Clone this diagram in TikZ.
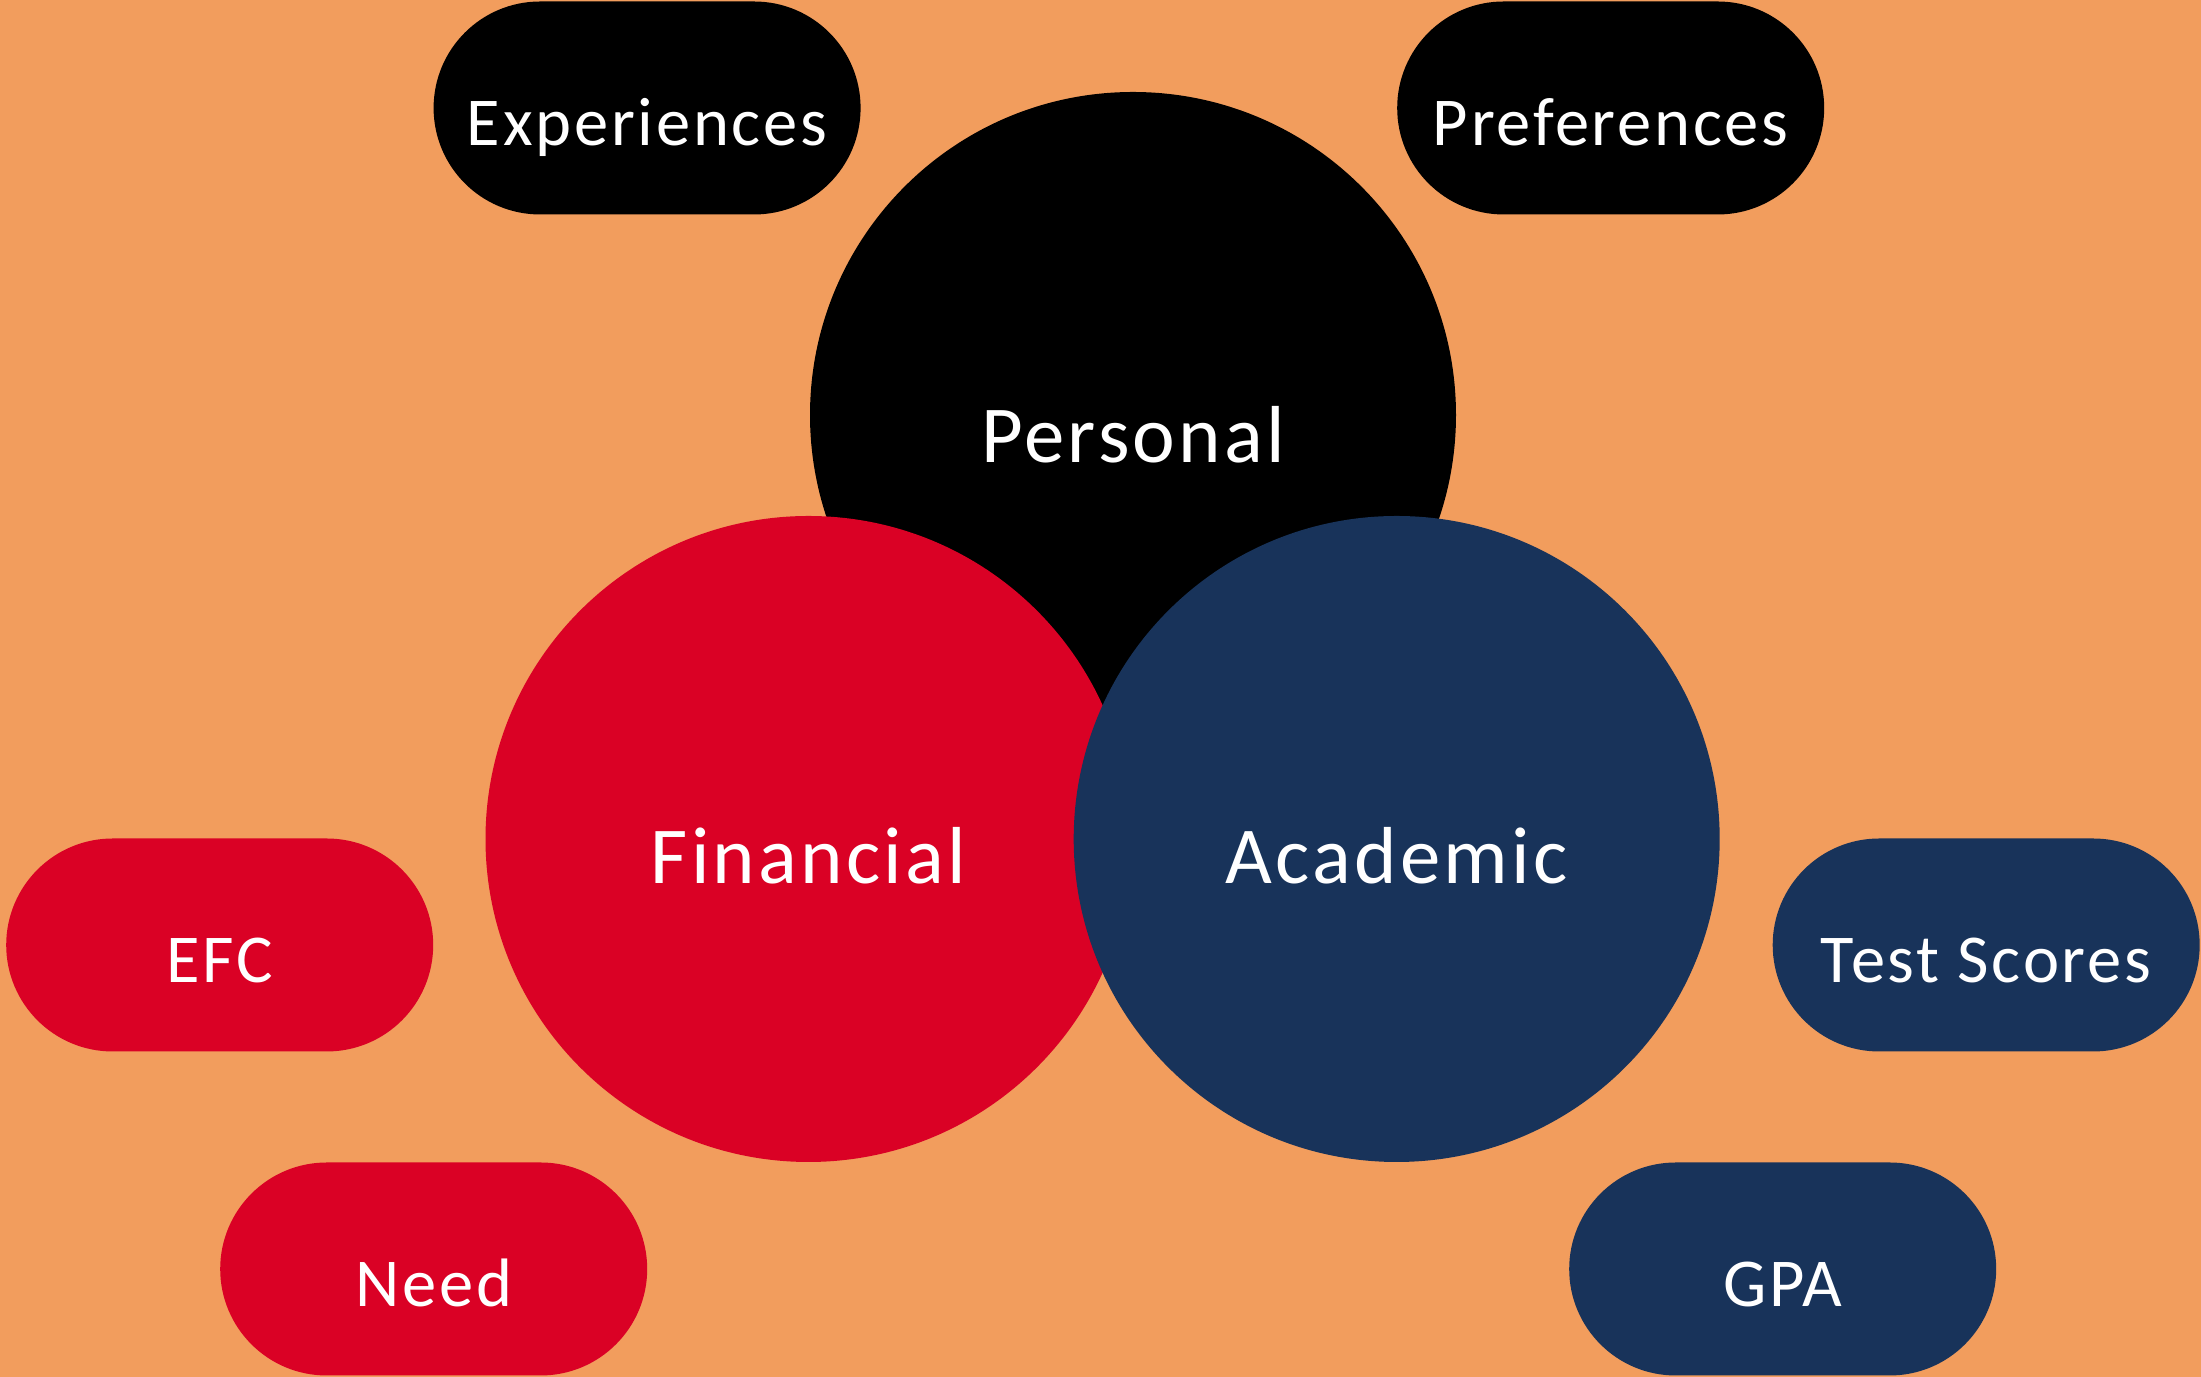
\documentclass[tikz,border=0pt]{standalone}
\usepackage{fontspec}
\usepackage{xcolor}
\usetikzlibrary{shapes.misc}
\newfontfamily\blobfont{Carlito}[LetterSpace=4]

\definecolor{bgorange}{HTML}{F29D5D}
\definecolor{finred}{HTML}{DA0125}
\definecolor{acadnavy}{HTML}{18335A}

\begin{document}
\begin{tikzpicture}[
		bigcircle/.style={circle, minimum size=6.46cm, inner sep=0pt},
		pill/.style={rounded rectangle, minimum width=4.27cm, minimum height=2.13cm, inner sep=0pt},
		biglabel/.style={anchor=base, text=white, font=\blobfont\fontsize{23}{28}\selectfont},
		pilllabel/.style={anchor=base, text=white, font=\blobfont\fontsize{19.5}{23}\selectfont}]

		\fill[bgorange] (0,0) rectangle (22.01,13.77);
		\useasboundingbox (0,0) rectangle (22.01,13.77);

		\node[bigcircle, fill=black] (personal) at (11.33,9.62) {};
		\node[bigcircle, fill=finred] (financial) at (8.085,5.38) {};
		\node[bigcircle, fill=acadnavy] (academic) at (13.967,5.38) {};

		\node[biglabel] (personaltxt) at ([yshift=-0.48cm]personal.center) {Personal};
		\node[biglabel] (financialtxt) at ([yshift=-0.45cm]financial.center) {Financial};
		\node[biglabel] (academictxt) at ([yshift=-0.45cm]academic.center) {Academic};

		\node[pill, fill=black] (experiences) at (6.471,12.69) {};
		\node[pill, fill=black] (preferences) at (16.107,12.69) {};
		\node[pill, fill=finred] (efc) at (2.197,4.32) {};
		\node[pill, fill=finred] (need) at (4.337,1.08) {};
		\node[pill, fill=acadnavy] (testscores) at (19.862,4.32) {};
		\node[pill, fill=acadnavy] (gpa) at (17.827,1.08) {};

		\node[pilllabel] (experiencestxt) at ([yshift=-0.38cm]experiences.center) {Experiences};
		\node[pilllabel] (preferencestxt) at ([yshift=-0.38cm]preferences.center) {Preferences};
		\node[pilllabel] (efctxt) at ([yshift=-0.38cm]efc.center) {EFC};
		\node[pilllabel] (needtxt) at ([yshift=-0.38cm]need.center) {Need};
		\node[pilllabel] (testscorestxt) at ([yshift=-0.38cm]testscores.center) {Test Scores};
		\node[pilllabel] (gpatxt) at ([yshift=-0.38cm]gpa.center) {GPA};

\end{tikzpicture}
\end{document}
